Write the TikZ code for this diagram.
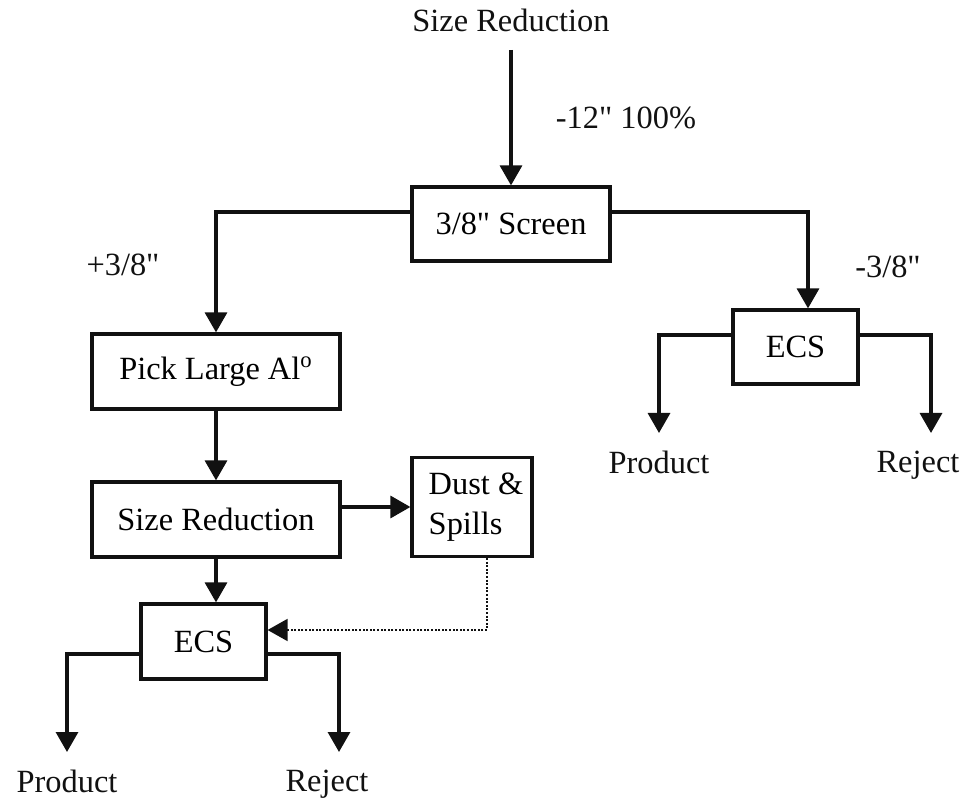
\documentclass[tikz,border=0pt]{standalone}
\usepackage{fontspec}
\setmainfont{Liberation Serif}
\usepackage{tikz}
\usetikzlibrary{arrows.meta,calc}
\definecolor{ink}{HTML}{111111}
\newcommand{\inch}{\textquotedbl}
\tikzset{
  procBox/.style={draw=ink, line width=1.6pt, fill=white, inner sep=0pt, align=center},
  flowArrow/.style={draw=ink, line width=1.6pt, -{Triangle[width=11pt,length=10pt]}},
  dotArrow/.style={draw=ink, line width=0.9pt, dash pattern=on 1pt off 0.8pt, -{Triangle[width=11pt,length=10pt]}},
  flowLbl/.style={text=ink, inner sep=2pt},
  outLbl/.style={text=ink, inner sep=9pt, anchor=north},
}
\begin{document}
\begin{tikzpicture}[x=0.5pt, y=-0.5pt, font=\fontsize{16.2}{20}\selectfont]
  \useasboundingbox (0,0) rectangle (964,801);

  % feed and first screen
  \node[flowLbl] (srcTop) at (511,20) {Size Reduction};
  \node[procBox, minimum width=99pt, minimum height=37pt] (screen) at (511,224) {3/8\inch{} Screen};
  \node[flowLbl] (feedLbl) at (626,118) {-12\inch{} 100\%};
  \node[flowLbl] (plusLbl) at (123,265) {+3/8\inch};
  \node[flowLbl] (minusLbl) at (888,267) {-3/8\inch};

  % oversize branch
  \node[procBox, minimum width=124pt, minimum height=37.5pt] (pick) at (216,371.5) {Pick Large Al\textsuperscript{o}};
  \node[procBox, minimum width=124pt, minimum height=37.5pt] (sizeRed) at (216,519.5) {Size Reduction};
  \node[procBox, minimum width=60pt, minimum height=49.5pt, align=left] (dust) at (472,507) {\hspace*{4pt}Dust \&\\\hspace*{4pt}Spills};
  \node[procBox, minimum width=62.5pt, minimum height=37.5pt] (ecsL) at (203.5,641.5) {ECS};
  \node[outLbl] (prodL) at (67,752) {Product};
  \node[outLbl] (rejL) at (327,752) {Reject};

  % undersize branch
  \node[procBox, minimum width=62.5pt, minimum height=37pt] (ecsR) at (795.5,347) {ECS};
  \node[outLbl] (prodR) at (659,433) {Product};
  \node[outLbl] (rejR) at (918,433) {Reject};

  \draw[flowArrow] ([yshift=-7pt]srcTop.south) -- (screen.north);
  \draw[flowArrow] ([yshift=6pt]screen.west) -| (pick.north);
  \draw[flowArrow] ([yshift=6pt]screen.east) -| ([xshift=6.25pt]ecsR.north);
  \draw[flowArrow] (pick.south) -- (sizeRed.north);
  \draw[flowArrow] ([yshift=6.25pt]sizeRed.east) -- (dust.west);
  \draw[flowArrow] (sizeRed.south) -- (sizeRed.south |- ecsL.north);
  \draw[dotArrow] ([xshift=7.5pt]dust.south) |- ([yshift=5.75pt]ecsL.east);

  \draw[flowArrow] ([yshift=-6.25pt]ecsL.west) -| (prodL.north);
  \draw[flowArrow] ([yshift=-6.25pt]ecsL.east) -| ([xshift=6pt]rejL.north);
  \draw[flowArrow] ([yshift=6pt]ecsR.west) -| (prodR.north);
  \draw[flowArrow] ([yshift=6pt]ecsR.east) -| ([xshift=6.5pt]rejR.north);
\end{tikzpicture}
\end{document}
